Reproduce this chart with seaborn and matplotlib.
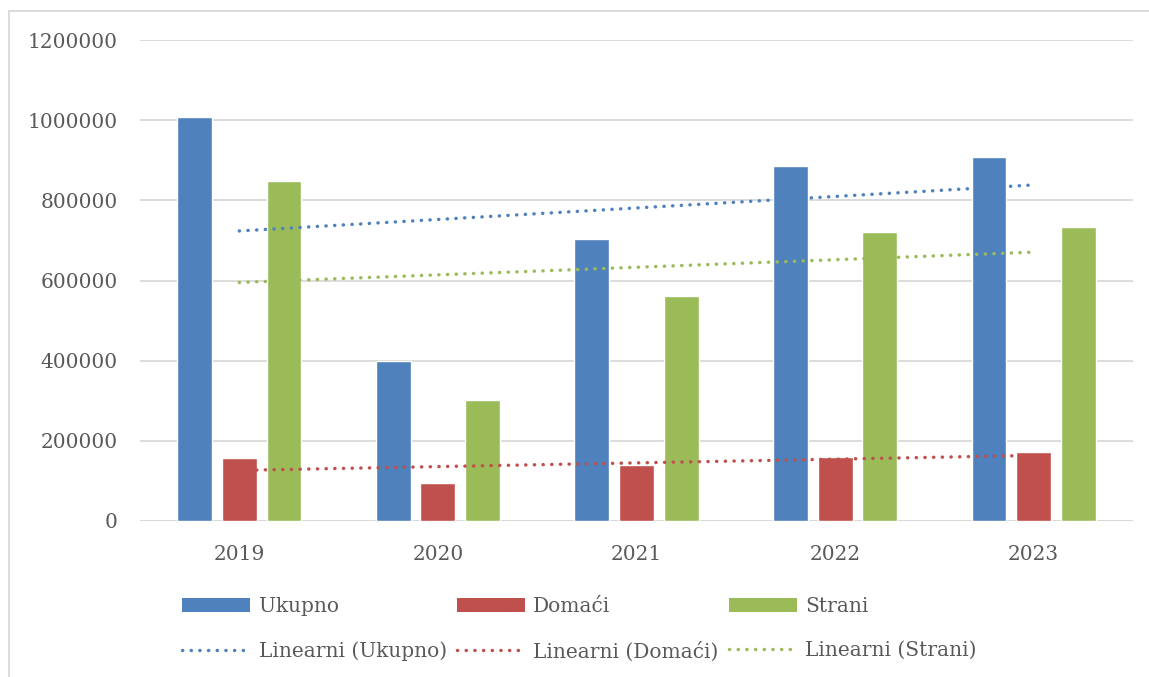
import numpy as np
import pandas as pd
import matplotlib
matplotlib.use('Agg')
import matplotlib.pyplot as plt
from matplotlib.patches import Patch, Rectangle
from matplotlib.lines import Line2D
import seaborn as sns

# podaci ocitani sa grafa
godine = ['2019', '2020', '2021', '2022', '2023']
ukupno = [1008000, 399000, 704000, 886000, 908000]
domaci = [158000, 95000, 140000, 160000, 172000]
strani = [848000, 302000, 561000, 721000, 733000]
serije = ['Ukupno', 'Domaći', 'Strani']
boje = ['#4F81BD', '#C0504D', '#9BBB59']
y_ticks = [0, 200000, 400000, 600000, 800000, 1000000, 1200000]

df = pd.DataFrame({'Godina': godine * 3,
                   'Serija': [s for s in serije for _ in godine],
                   'Vrijednost': ukupno + domaci + strani})

sns.set_style('white')
plt.rcParams['font.family'] = ['DejaVu Serif']
tekst = '#595959'
fs = 14.5
tacke = (0, (0.05, 2.45))

fig = plt.figure(figsize=(11.49, 6.77), dpi=100)
ax = fig.add_axes([140 / 1149, 1 - 521 / 677, 993 / 1149, 481 / 677])

sns.barplot(data=df, x='Godina', y='Vrijednost', hue='Serija',
            palette=boje, width=0.675, gap=0.22, ax=ax, legend=False,
            saturation=1)

# linearni trendovi
x = np.arange(len(godine))
for vals, boja in zip([ukupno, domaci, strani], boje):
    k, n = np.polyfit(x, vals, 1)
    ax.plot(x, k * x + n, color=boja, lw=2.5, linestyle=tacke,
            dash_capstyle='round', zorder=5)

ax.set_xlim(-0.5, 4.5)
ax.set_ylim(0, 1200000)
ax.set_yticks(y_ticks)
ax.set_yticklabels([str(t) for t in y_ticks])
ax.yaxis.grid(True, color='#D9D9D9', lw=1.3)
ax.set_axisbelow(True)
for s in ax.spines.values():
    s.set_visible(False)
ax.axhline(0, color='#D9D9D9', lw=1.3, zorder=0)
ax.set_xlabel('')
ax.set_ylabel('')
ax.tick_params(axis='both', length=0, labelsize=fs, colors=tekst)
ax.tick_params(axis='y', pad=16)
ax.tick_params(axis='x', pad=17)

handles = []
labels = []
for s, boja in zip(serije, boje):
    handles.append(Patch(facecolor=boja, edgecolor='none'))
    labels.append(s)
    handles.append(Line2D([0], [0], color=boja, lw=2.5, linestyle=tacke,
                          dash_capstyle='round'))
    labels.append('Linearni (%s)' % s)

leg = fig.legend(handles, labels, ncol=3, frameon=False, loc='upper left',
                 bbox_to_anchor=(182 / 1149, 1 - 597 / 677), borderpad=0,
                 borderaxespad=0, handlelength=3.4, handletextpad=0.4,
                 columnspacing=0.5, labelspacing=1.25, fontsize=fs)
for t in leg.get_texts():
    t.set_color(tekst)

# okvir grafa
fig.add_artist(Rectangle((8.5 / 1149, -0.1), 1.2, 1.1 - 10.5 / 677,
                         transform=fig.transFigure, fill=False,
                         edgecolor='#D9D9D9', lw=1.3))

fig.savefig('out.png', dpi=100)
